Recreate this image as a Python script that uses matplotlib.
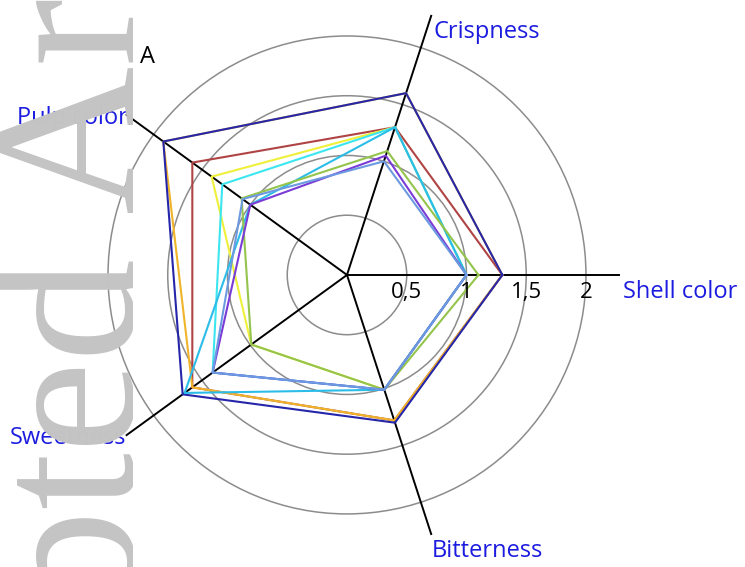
import numpy as np
import matplotlib
matplotlib.use("Agg")
import matplotlib.pyplot as plt
from matplotlib.patches import Circle

# Radar chart of sensory scores (panel A)
categories = ["Shell color", "Crispness", "Pulp color", "Sweetness", "Bitterness"]
rings = [0.5, 1.0, 1.5, 2.0]
ring_labels = ["0,5", "1", "1,5", "2"]

navy = [1.30, 1.60, 1.90, 1.70, 1.30]
brown = [1.30, 1.30, 1.60, 1.60, 1.28]
orange = [1.30, 1.60, 1.90, 1.60, 1.28]
yellow = [1.00, 1.30, 1.40, 0.99, 1.01]
cyan = [1.00, 1.30, 1.29, 1.39, 1.01]
skyblue = [1.00, 1.30, 1.00, 1.68, 1.01]
green = [1.10, 1.09, 1.09, 0.99, 1.01]
purple = [1.00, 1.05, 1.00, 1.39, 1.01]
lightblue = [1.00, 1.00, 1.08, 1.39, 1.01]

# drawing order: first one ends up at the bottom
series = [
    (brown, "#b04444"),
    (orange, "#f0b429"),
    (navy, "#2626aa"),
    (yellow, "#eef03a"),
    (cyan, "#3ce6f0"),
    (skyblue, "#2bbde8"),
    (green, "#94c44c"),
    (purple, "#7a3cd6"),
    (lightblue, "#6c9ae0"),
]

angles = np.deg2rad(np.arange(len(categories)) * 72.0)
axis_len = 2.28
label_blue = "#1c1ce0"
font = ["Open Sans", "DejaVu Sans"]

fig = plt.figure(figsize=(7.45, 5.67), dpi=100)
ax = fig.add_axes([0, 0, 1, 1])
ax.set_xlim(-2.904, 3.331)
ax.set_ylim(-2.444, 2.301)
ax.set_aspect("equal")
ax.axis("off")

for r in rings:
    ax.add_patch(Circle((0, 0), r, fill=False, edgecolor="#8c8c8c", lw=1.1, zorder=1))

for a in angles:
    ax.plot([0, axis_len * np.cos(a)], [0, axis_len * np.sin(a)], color="black", lw=1.4, zorder=2)

for vals, col in series:
    v = np.array(vals + vals[:1])
    t = np.append(angles, angles[0])
    ax.plot(v * np.cos(t), v * np.sin(t), color=col, lw=1.5, zorder=3)

for r, lab in zip(rings, ring_labels):
    ax.text(r, -0.15, lab, ha="center", va="center", fontsize=16, family=font, zorder=4)

# axis names
ax.text(2.31, -0.142, categories[0], color=label_blue, ha="left", va="center", fontsize=17, family=font)
ax.text(0.72, 2.033, categories[1], color=label_blue, ha="left", va="center", fontsize=17, family=font)
ax.text(-1.833, 1.314, categories[2], color=label_blue, ha="right", va="center", fontsize=17, family=font)
ax.text(-1.85, -1.364, categories[3], color=label_blue, ha="right", va="center", fontsize=17, family=font)
ax.text(0.711, -2.31, categories[4], color=label_blue, ha="left", va="center", fontsize=17, family=font)
ax.text(-1.67, 1.82, "A", color="black", ha="center", va="center", fontsize=17, family=font)

# journal watermark on the left edge
wm = fig.add_axes([0, 0, 133 / 745, 1], zorder=5)
wm.set_xlim(0, 133)
wm.set_ylim(567, 0)
wm.axis("off")
wm.patch.set_alpha(0)
wm_style = dict(rotation=90, rotation_mode="anchor", va="baseline", fontsize=148,
                color="#c4c4c4", family=["Liberation Serif", "DejaVu Serif"], clip_on=True)
wm.text(132, 256, "Accepted", ha="right", **wm_style)
wm.text(132, 212, "Article", ha="left", **wm_style)

fig.savefig("out.png", dpi=100)
